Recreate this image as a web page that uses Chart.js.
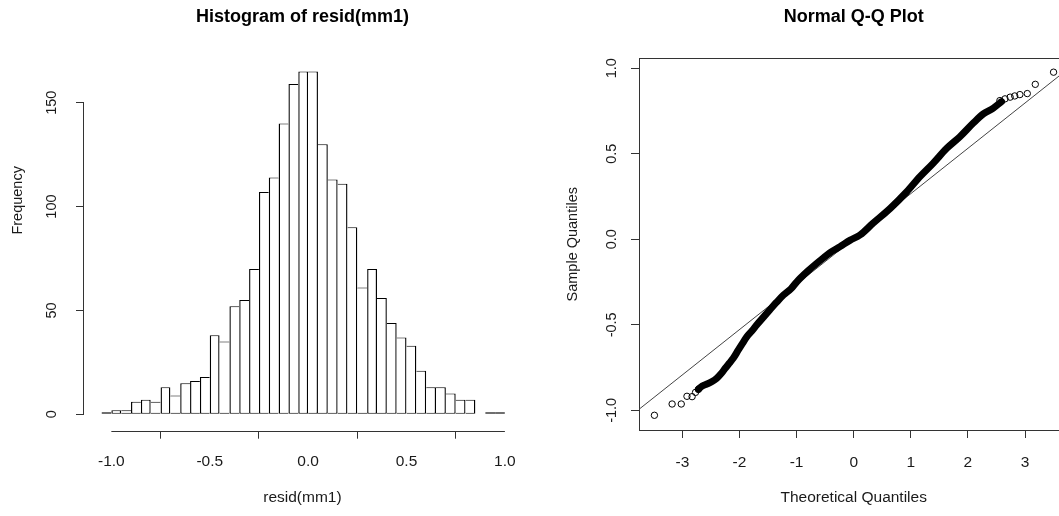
<!DOCTYPE html>
<html><head><meta charset="utf-8">
<script src="https://cdn.jsdelivr.net/npm/chart.js@4.4.1/dist/chart.umd.min.js"></script>
<style>
html,body{margin:0;padding:0;background:#fff;overflow:hidden;width:1059px;height:516px;}
#wrap{position:relative;width:1059px;height:516px;overflow:hidden;background:#fff;}
#c1{position:absolute;left:0;top:0;}
#c2{position:absolute;left:530px;top:0;}
</style></head><body>
<div id="wrap"><canvas id="c1" width="530" height="516"></canvas><canvas id="c2" width="545" height="516"></canvas></div>
<script>
// ---------- Histogram data ----------
const binCenters = [-1.025,-0.975,-0.925,-0.875,-0.825,-0.775,-0.725,-0.675,-0.625,-0.575,-0.525,-0.475,-0.425,-0.375,-0.325,-0.275,-0.225,-0.175,-0.125,-0.075,-0.025,0.025,0.075,0.125,0.175,0.225,0.275,0.325,0.375,0.425,0.475,0.525,0.575,0.625,0.675,0.725,0.775,0.825,0.875,0.925,0.975];
const binCounts = [1,2,2,6,7,6,13,9,15,16,18,38,35,52,55,70,107,114,140,159,165,165,130,113,111,90,61,70,56,44,37,33,21,13,13,10,7,7,0,1,1];
const histXTicks = [-1, -0.5, 0, 0.5, 1];
const histYTicks = [0, 50, 100, 150];

// ---------- Q-Q data ----------
const qqBandX = [-2.72,-2.67,-2.62,-2.57,-2.48,-2.40,-2.32,-2.25,-2.18,-2.11,-2.02,-1.95,-1.87,-1.78,-1.70,-1.58,-1.47,-1.35,-1.23,-1.10,-1.00,-0.80,-0.59,-0.40,-0.24,-0.06,0.11,0.34,0.64,0.93,1.16,1.39,1.63,1.86,2.09,2.27,2.44,2.59];
const qqBandY = [-0.877,-0.862,-0.853,-0.846,-0.832,-0.813,-0.785,-0.754,-0.725,-0.696,-0.647,-0.610,-0.569,-0.535,-0.501,-0.455,-0.413,-0.368,-0.326,-0.290,-0.250,-0.185,-0.125,-0.075,-0.043,-0.005,0.025,0.094,0.181,0.278,0.366,0.444,0.532,0.600,0.678,0.733,0.766,0.805];
const qqTailX = [-3.49,-3.18,-3.02,-2.92,-2.83,-2.77,-2.72,2.56,2.65,2.74,2.82,2.91,3.04,3.18,3.50];
const qqTailY = [-1.029,-0.963,-0.963,-0.918,-0.920,-0.895,-0.877,0.811,0.821,0.831,0.838,0.846,0.852,0.906,0.977];
const qqLineX = [-3.76, 3.76];
const qqLineY = [-0.994, 0.998];
const qqXTicks = [-3,-2,-1,0,1,2,3];
const qqYTicks = [-1,-0.5,0,0.5,1];

const FAM = "'Liberation Sans', Arial, sans-serif";
const TXT = '#1a1a1a';
const AX = '#333';
const HSIZE = 15.5;   // horizontal text
const VSIZE = 14.5;   // vertical text

// Partial R-style axis lines for the histogram + its y label
const histAxisLines = {
  id: 'histAxisLines',
  afterDraw(chart) {
    const {ctx, chartArea, scales} = chart;
    ctx.save();
    ctx.strokeStyle = AX; ctx.lineWidth = 1;
    const yb = Math.round(chartArea.bottom) + 0.5;
    ctx.beginPath();
    ctx.moveTo(scales.x.getPixelForValue(histXTicks[0]), yb);
    ctx.lineTo(scales.x.getPixelForValue(histXTicks[histXTicks.length-1]), yb);
    const xl = Math.round(chartArea.left) - 0.5;
    ctx.moveTo(xl, scales.y.getPixelForValue(histYTicks[0]));
    ctx.lineTo(xl, scales.y.getPixelForValue(histYTicks[histYTicks.length-1]));
    ctx.stroke();
    // y-axis label, placed as in the reference (beside the 100 tick)
    ctx.translate(18, scales.y.getPixelForValue(103));
    ctx.rotate(-Math.PI / 2);
    ctx.font = VSIZE + 'px ' + FAM;
    ctx.fillStyle = TXT; ctx.textAlign = 'center'; ctx.textBaseline = 'middle';
    ctx.fillText('Frequency', 0, 0);
    ctx.restore();
  }
};

const tickGrid = {display:true, drawOnChartArea:false, drawTicks:true, tickLength:8, color:AX, lineWidth:1};

new Chart(document.getElementById('c1'), {
  type: 'bar',
  data: { datasets: [{
    data: binCenters.map((x, i) => ({x: x, y: binCounts[i]})),
    backgroundColor: '#ffffff',
    borderColor: '#000',
    borderSkipped: false,
    inflateAmount: 0,
    barPercentage: 1,
    categoryPercentage: 1,
    grouped: false,
    borderWidth: (c) => {
      const i = c.dataIndex, h = binCounts;
      if (h[i] === 0) return 0;
      return {top:1, bottom:1,
        left: (i === 0 || h[i] > h[i-1]) ? 1.4 : 0,
        right: (i === h.length-1 || h[i] >= h[i+1]) ? 1.4 : 0};
    }
  }]},
  options: {
    responsive: false, animation: false, devicePixelRatio: 1,
    layout: {padding: 0},
    plugins: {legend: {display: false}, tooltip: {enabled: false}},
    scales: {
      x: {type: 'linear', position: 'bottom', min: -1.139, max: 1.081, offset: false,
        afterBuildTicks: s => { s.ticks = histXTicks.map(v => ({value: v})); },
        afterFit: s => { s.height = 85.3; },
        grid: tickGrid, border: {display: false},
        ticks: {font: {family: FAM, size: HSIZE}, color: TXT, padding: 14, maxRotation: 0, autoSkip: false,
          callback: v => Number(v).toFixed(1)},
        title: {display: true, text: 'resid(mm1)', font: {family: FAM, size: HSIZE}, color: TXT, padding: {top: 0, bottom: 9}}
      },
      xTop: {type: 'linear', position: 'top', display: true,
        afterFit: s => { s.height = 57.8; },
        grid: {display: false}, border: {display: false}, ticks: {display: false},
        title: {display: true, text: 'Histogram of resid(mm1)', font: {family: FAM, size: 18, weight: 'bold'}, color: '#000', padding: {top: 6, bottom: 0}}
      },
      y: {type: 'linear', position: 'left', min: -7.89, max: 171.6,
        afterBuildTicks: s => { s.ticks = histYTicks.map(v => ({value: v})); },
        afterFit: s => { s.width = 84; },
        grid: tickGrid, border: {display: false},
        ticks: {font: {family: FAM, size: VSIZE}, color: TXT, padding: 12, minRotation: 90, maxRotation: 90, crossAlign: 'center', autoSkip: false,
          callback: v => String(v)},
        title: {display: false}
      }
    }
  },
  plugins: [histAxisLines]
});

new Chart(document.getElementById('c2'), {
  type: 'scatter',
  data: { datasets: [
    {type: 'line', data: qqLineX.map((x, i) => ({x: x, y: qqLineY[i]})), borderColor: '#444', borderWidth: 1, pointRadius: 0, order: 3},
    {type: 'line', data: qqBandX.map((x, i) => ({x: x, y: qqBandY[i]})), borderColor: '#000', borderWidth: 7, pointRadius: 0,
      cubicInterpolationMode: 'monotone', borderCapStyle: 'round', borderJoinStyle: 'round', order: 2},
    {type: 'scatter', data: qqTailX.map((x, i) => ({x: x, y: qqTailY[i]})), pointRadius: 3.2, pointBorderWidth: 1,
      pointBorderColor: '#000', pointBackgroundColor: 'rgba(0,0,0,0)', pointStyle: 'circle', order: 1}
  ]},
  options: {
    responsive: false, animation: false, devicePixelRatio: 1,
    layout: {padding: 0},
    plugins: {legend: {display: false}, tooltip: {enabled: false}},
    scales: {
      x: {type: 'linear', position: 'bottom', min: -3.76, max: 3.76,
        afterBuildTicks: s => { s.ticks = qqXTicks.map(v => ({value: v})); },
        afterFit: s => { s.height = 86; },
        grid: tickGrid, border: {display: true, color: AX, width: 1},
        ticks: {font: {family: FAM, size: HSIZE}, color: TXT, padding: 15, maxRotation: 0, autoSkip: false,
          callback: v => String(v)},
        title: {display: true, text: 'Theoretical Quantiles', font: {family: FAM, size: HSIZE}, color: TXT, padding: {top: 0, bottom: 9}}
      },
      xTop: {type: 'linear', position: 'top', display: true,
        afterFit: s => { s.height = 58.5; },
        grid: {display: false}, border: {display: true, color: AX, width: 1}, ticks: {display: false},
        title: {display: true, text: 'Normal Q-Q Plot', font: {family: FAM, size: 18, weight: 'bold'}, color: '#000', padding: {top: 6, bottom: 0}}
      },
      y: {type: 'linear', position: 'left', min: -1.115, max: 1.057,
        afterBuildTicks: s => { s.ticks = qqYTicks.map(v => ({value: v})); },
        afterFit: s => { s.width = 109; },
        grid: tickGrid, border: {display: true, color: AX, width: 1},
        ticks: {font: {family: FAM, size: VSIZE}, color: TXT, padding: 7, minRotation: 90, maxRotation: 90, crossAlign: 'center', autoSkip: false,
          callback: v => Number(v).toFixed(1)},
        title: {display: true, text: 'Sample Quantiles', font: {family: FAM, size: VSIZE}, color: TXT, padding: {top: 34, bottom: 0}}
      },
      yRight: {type: 'linear', position: 'right', display: true,
        afterFit: s => { s.width = 6.6; },
        grid: {display: false}, border: {display: true, color: AX, width: 1}, ticks: {display: false}
      }
    }
  }
});
</script>
</body></html>
